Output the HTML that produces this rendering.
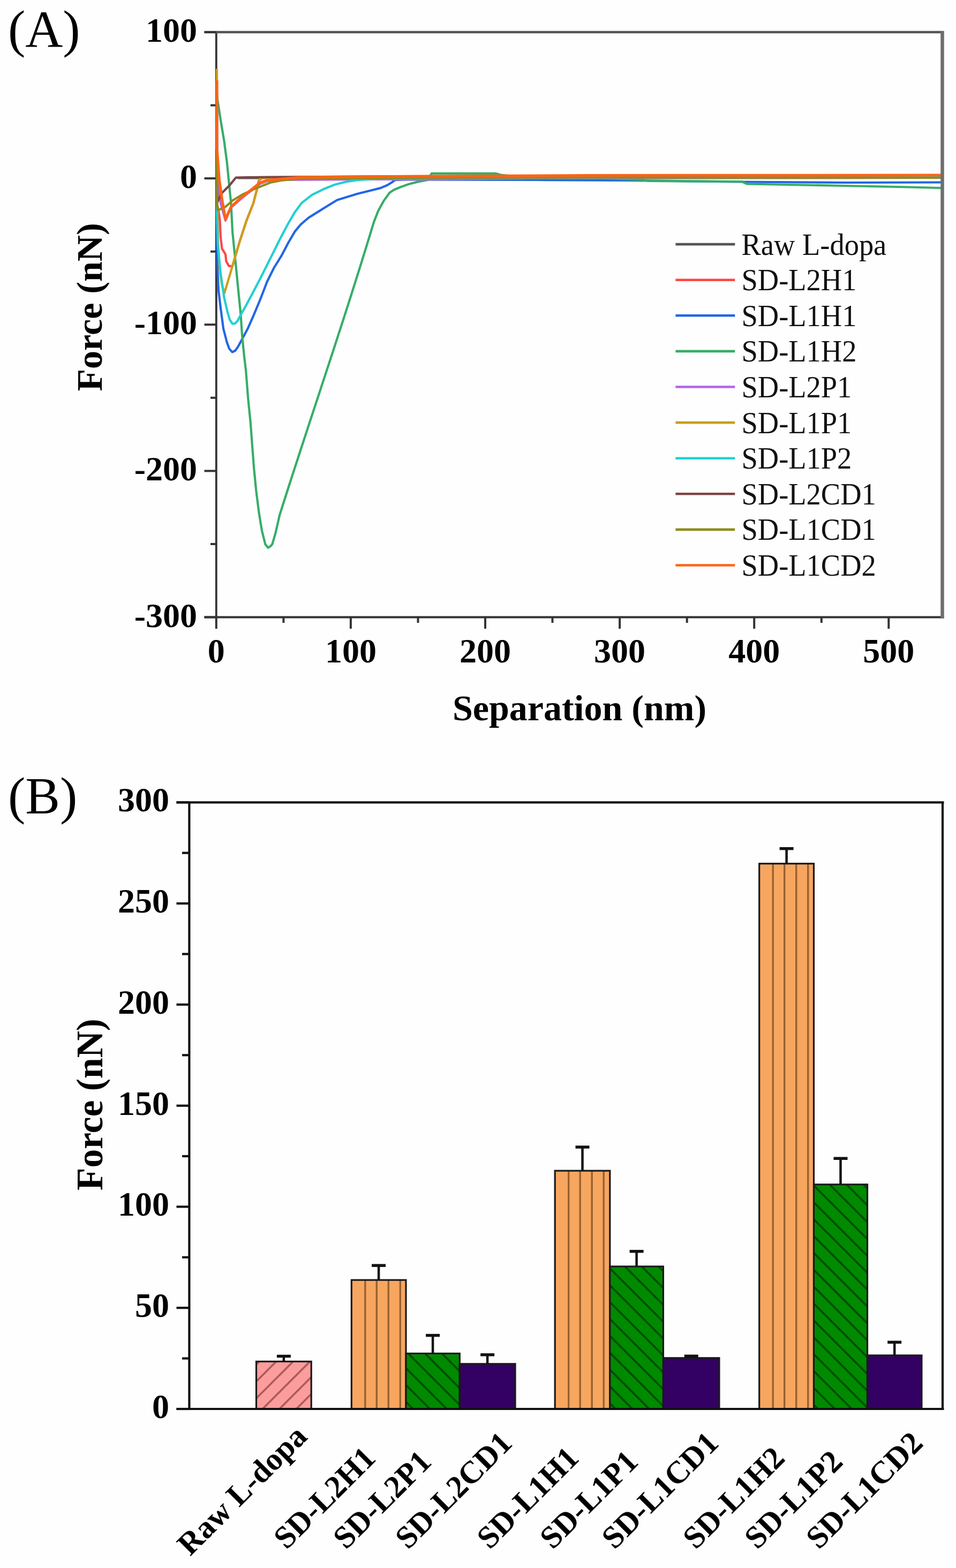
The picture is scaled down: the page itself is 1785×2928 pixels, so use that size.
<!DOCTYPE html>
<html><head><meta charset="utf-8"><title>Figure</title><style>
html,body{margin:0;padding:0;background:#fff;}
svg{display:block;}
text{font-family:'Liberation Serif', 'Times New Roman', serif;fill:#000;}
.tb{font-size:64px;font-weight:bold;}
.tt{font-size:68px;font-weight:bold;}
.pl{font-size:97px;}
.lg{font-size:54.5px;fill:#111;}
.xl{font-size:59px;font-weight:bold;}
</style></head>
<body>
<svg width="1785" height="2928" viewBox="0 0 1785 2928">
<rect width="1785" height="2928" fill="#fefefe"/>
<defs>
<clipPath id="clipA"><rect x="398" y="63.0" width="1361.5" height="1087.5"/></clipPath>
<pattern id="pat_pink" patternUnits="userSpaceOnUse" width="31.5" height="31.5" x="2.7" y="0">
  <path d="M-4,35.5 L35.5,-4 M-4,4 L4,-4 M27.5,35.5 L35.5,27.5" stroke="#a65858" stroke-width="3.4"/>
</pattern>
<pattern id="pat_green" patternUnits="userSpaceOnUse" width="31.5" height="31.5" x="0" y="1.3">
  <path d="M-4,-4 L35.5,35.5 M27.5,-4 L35.5,4 M-4,27.5 L4,35.5" stroke="#004a00" stroke-width="3.6"/>
</pattern>
<pattern id="pat_orange" patternUnits="userSpaceOnUse" width="22" height="40" x="4" y="0">
  <path d="M11,0 L11,40" stroke="#8a5a32" stroke-width="3"/>
</pattern>
</defs>
<line x1="403.8" y1="60.0" x2="403.8" y2="1152.5" stroke="#333" stroke-width="3.8"/>
<line x1="381.5" y1="1152.5" x2="1762.5" y2="1152.5" stroke="#333" stroke-width="4"/>
<line x1="381.5" y1="60.0" x2="1762.5" y2="60.0" stroke="#555" stroke-width="4.5"/>
<line x1="1759.5" y1="58.0" x2="1759.5" y2="1154.5" stroke="#6e6e6e" stroke-width="6"/>
<line x1="381.5" y1="60.0" x2="403.8" y2="60.0" stroke="#333" stroke-width="4"/>
<text x="368" y="78.0" text-anchor="end" class="tb">100</text>
<line x1="381.5" y1="333.1" x2="403.8" y2="333.1" stroke="#333" stroke-width="4"/>
<text x="368" y="351.1" text-anchor="end" class="tb">0</text>
<line x1="381.5" y1="606.2" x2="403.8" y2="606.2" stroke="#333" stroke-width="4"/>
<text x="368" y="624.2" text-anchor="end" class="tb">-100</text>
<line x1="381.5" y1="879.4" x2="403.8" y2="879.4" stroke="#333" stroke-width="4"/>
<text x="368" y="897.4" text-anchor="end" class="tb">-200</text>
<line x1="381.5" y1="1152.5" x2="403.8" y2="1152.5" stroke="#333" stroke-width="4"/>
<text x="368" y="1170.5" text-anchor="end" class="tb">-300</text>
<line x1="393" y1="196.6" x2="403.8" y2="196.6" stroke="#333" stroke-width="4"/>
<line x1="393" y1="469.7" x2="403.8" y2="469.7" stroke="#333" stroke-width="4"/>
<line x1="393" y1="742.8" x2="403.8" y2="742.8" stroke="#333" stroke-width="4"/>
<line x1="393" y1="1015.9" x2="403.8" y2="1015.9" stroke="#333" stroke-width="4"/>
<line x1="403.8" y1="1152.5" x2="403.8" y2="1174" stroke="#333" stroke-width="4"/>
<text x="403.8" y="1237" text-anchor="middle" class="tb">0</text>
<line x1="654.9" y1="1152.5" x2="654.9" y2="1174" stroke="#333" stroke-width="4"/>
<text x="654.9" y="1237" text-anchor="middle" class="tb">100</text>
<line x1="906.0" y1="1152.5" x2="906.0" y2="1174" stroke="#333" stroke-width="4"/>
<text x="906.0" y="1237" text-anchor="middle" class="tb">200</text>
<line x1="1157.1" y1="1152.5" x2="1157.1" y2="1174" stroke="#333" stroke-width="4"/>
<text x="1157.1" y="1237" text-anchor="middle" class="tb">300</text>
<line x1="1408.2" y1="1152.5" x2="1408.2" y2="1174" stroke="#333" stroke-width="4"/>
<text x="1408.2" y="1237" text-anchor="middle" class="tb">400</text>
<line x1="1659.3" y1="1152.5" x2="1659.3" y2="1174" stroke="#333" stroke-width="4"/>
<text x="1659.3" y="1237" text-anchor="middle" class="tb">500</text>
<line x1="529.4" y1="1152.5" x2="529.4" y2="1163" stroke="#333" stroke-width="4"/>
<line x1="780.5" y1="1152.5" x2="780.5" y2="1163" stroke="#333" stroke-width="4"/>
<line x1="1031.5" y1="1152.5" x2="1031.5" y2="1163" stroke="#333" stroke-width="4"/>
<line x1="1282.7" y1="1152.5" x2="1282.7" y2="1163" stroke="#333" stroke-width="4"/>
<line x1="1533.8" y1="1152.5" x2="1533.8" y2="1163" stroke="#333" stroke-width="4"/>
<g clip-path="url(#clipA)">
<polyline points="405.0,148.0 405.0,340.0" fill="none" stroke="#555555" stroke-width="4.2" stroke-linejoin="round" stroke-linecap="round"/>
<polyline points="445.0,332.5 1757.0,331.5" fill="none" stroke="#555555" stroke-width="4.2" stroke-linejoin="round" stroke-linecap="round"/>
<polyline points="405.0,255.0 405.5,380.0 409.0,400.0 410.6,412.5 411.9,442.3 414.5,464.4 421.0,474.8 422.3,487.8 427.5,496.9 432.0,497.0 434.0,496.9 447.0,452.7 460.0,412.5 472.9,380.0 479.4,355.0 483.3,337.0 490.0,332.0 600.0,330.0 1757.0,328.0" fill="none" stroke="#ff4646" stroke-width="4.2" stroke-linejoin="round" stroke-linecap="round"/>
<polyline points="405.0,150.0 405.0,420.0 406.0,500.0 408.0,542.3 411.9,574.8 417.1,613.8 423.6,639.0 428.0,651.0 433.5,657.5 439.0,655.0 444.4,647.5 452.1,633.2 462.5,613.8 472.9,590.4 485.9,559.2 498.9,525.5 511.9,499.5 524.9,478.7 537.9,454.0 550.7,432.1 561.3,419.3 576.2,406.5 593.3,395.9 610.3,385.2 629.5,373.5 646.5,368.2 667.8,361.8 689.1,356.5 710.4,351.1 723.2,345.8 731.7,340.5 738.1,335.8 760.0,335.5 1000.0,336.0 1180.0,337.0 1380.0,339.5 1580.0,341.0 1757.0,340.5" fill="none" stroke="#2266e6" stroke-width="4.2" stroke-linejoin="round" stroke-linecap="round"/>
<polyline points="405.0,175.0 406.0,185.0 411.9,223.9 418.4,262.9 423.6,301.8 427.5,340.8 431.4,379.7 434.0,432.0 437.9,470.9 441.8,509.9 445.6,548.8 449.5,587.8 452.1,626.8 456.0,665.7 459.2,692.6 463.4,745.9 467.7,788.5 470.9,831.1 474.1,873.7 478.3,916.3 483.7,958.9 489.0,990.9 495.4,1016.4 500.7,1022.8 505.0,1020.0 508.3,1016.4 514.4,995.7 522.0,962.2 530.0,937.0 538.0,912.0 546.0,887.2 554.0,862.6 562.0,838.0 570.0,813.6 578.0,789.2 586.0,764.9 594.0,740.6 602.0,716.2 610.0,691.9 618.0,667.5 626.0,643.0 634.0,618.4 642.0,593.7 650.0,568.8 658.0,543.7 666.0,518.4 674.0,492.9 682.0,467.1 690.0,441.1 698.0,414.7 706.2,393.7 716.8,374.6 727.5,359.7 736.0,354.3 748.8,349.0 763.7,343.7 780.7,339.4 797.8,336.2 802.0,330.0 806.0,323.8 925.0,323.8 935.0,326.5 960.0,329.0 1100.0,332.0 1200.0,336.0 1210.0,338.0 1385.0,339.0 1395.0,343.5 1500.0,345.5 1580.0,347.0 1700.0,349.5 1757.0,351.0" fill="none" stroke="#35ad68" stroke-width="4.2" stroke-linejoin="round" stroke-linecap="round"/>
<polyline points="405.0,170.0 406.0,330.0 412.0,380.0 421.0,412.0 431.0,388.0 447.0,374.0 460.0,363.0 473.0,353.0 486.0,343.0 499.0,338.0 525.0,336.0 700.0,335.0 865.0,334.5 1000.0,333.0 1757.0,332.0" fill="none" stroke="#b266e8" stroke-width="4.2" stroke-linejoin="round" stroke-linecap="round"/>
<polyline points="405.0,130.0 405.0,330.0 407.0,450.0 410.0,500.0 414.0,530.0 419.0,547.5 434.0,496.9 447.0,452.7 460.0,412.5 472.9,380.0 479.4,355.0 483.3,337.0 486.0,333.0 520.0,332.0 1757.0,330.0" fill="none" stroke="#cc9e1c" stroke-width="4.2" stroke-linejoin="round" stroke-linecap="round"/>
<polyline points="405.0,312.0 405.0,400.0 406.7,457.9 411.9,509.9 418.4,555.3 424.9,583.0 429.0,597.0 434.0,604.5 438.0,604.5 443.0,600.0 449.5,587.8 459.9,569.6 472.9,544.9 485.9,520.3 498.9,494.3 511.9,468.3 524.9,442.3 537.9,417.7 550.7,395.9 563.4,378.8 582.6,363.9 603.9,353.3 625.2,344.7 646.5,339.4 667.8,336.2 700.0,334.0 800.0,332.0 1757.0,331.0" fill="none" stroke="#22cfd2" stroke-width="4.2" stroke-linejoin="round" stroke-linecap="round"/>
<polyline points="405.0,235.0 405.0,340.0 406.0,377.0 414.5,360.3 427.5,347.3 440.5,331.7 460.0,331.0 800.0,329.0 1757.0,327.0" fill="none" stroke="#7d4444" stroke-width="4.2" stroke-linejoin="round" stroke-linecap="round"/>
<polyline points="405.0,285.0 405.0,380.0 406.7,392.7 421.0,386.2 434.0,374.5 453.4,362.9 472.9,353.8 485.9,348.6 505.4,340.8 524.9,336.9 560.0,334.0 800.0,332.0 1100.0,331.5 1757.0,332.0" fill="none" stroke="#8d8d1f" stroke-width="4.2" stroke-linejoin="round" stroke-linecap="round"/>
<polyline points="405.0,152.0 405.0,276.0 409.3,334.3 415.0,375.0 421.0,409.6 426.0,398.0 431.4,386.2 447.0,372.0 460.0,361.6 473.0,351.2 486.0,340.8 498.9,336.9 524.9,334.3 560.0,331.0 800.0,329.0 1100.0,327.5 1757.0,327.0" fill="none" stroke="#ff6418" stroke-width="5.0" stroke-linejoin="round" stroke-linecap="round"/>
</g>
<line x1="1759.5" y1="58.0" x2="1759.5" y2="1154.5" stroke="#6e6e6e" stroke-width="6"/>
<text transform="translate(189.5,573.5) rotate(-90)" text-anchor="middle" class="tt">Force (nN)</text>
<text x="1082" y="1345" text-anchor="middle" class="tt">Separation (nm)</text>
<text x="15" y="87" class="pl">(A)</text>
<line x1="1261.4" y1="456.1" x2="1372.3" y2="456.1" stroke="#555555" stroke-width="4.6"/>
<text transform="translate(1384.5,475.6) scale(1,1.045)" class="lg">Raw L-dopa</text>
<line x1="1261.4" y1="522.7" x2="1372.3" y2="522.7" stroke="#ff4646" stroke-width="4.6"/>
<text transform="translate(1384.5,542.2) scale(1,1.045)" class="lg">SD-L2H1</text>
<line x1="1261.4" y1="589.3" x2="1372.3" y2="589.3" stroke="#2266e6" stroke-width="4.6"/>
<text transform="translate(1384.5,608.8) scale(1,1.045)" class="lg">SD-L1H1</text>
<line x1="1261.4" y1="655.9" x2="1372.3" y2="655.9" stroke="#35ad68" stroke-width="4.6"/>
<text transform="translate(1384.5,675.4) scale(1,1.045)" class="lg">SD-L1H2</text>
<line x1="1261.4" y1="722.5" x2="1372.3" y2="722.5" stroke="#b266e8" stroke-width="4.6"/>
<text transform="translate(1384.5,742.0) scale(1,1.045)" class="lg">SD-L2P1</text>
<line x1="1261.4" y1="789.1" x2="1372.3" y2="789.1" stroke="#cc9e1c" stroke-width="4.6"/>
<text transform="translate(1384.5,808.6) scale(1,1.045)" class="lg">SD-L1P1</text>
<line x1="1261.4" y1="855.7" x2="1372.3" y2="855.7" stroke="#22cfd2" stroke-width="4.6"/>
<text transform="translate(1384.5,875.2) scale(1,1.045)" class="lg">SD-L1P2</text>
<line x1="1261.4" y1="922.3" x2="1372.3" y2="922.3" stroke="#7d4444" stroke-width="4.6"/>
<text transform="translate(1384.5,941.8) scale(1,1.045)" class="lg">SD-L2CD1</text>
<line x1="1261.4" y1="988.9" x2="1372.3" y2="988.9" stroke="#8d8d1f" stroke-width="4.6"/>
<text transform="translate(1384.5,1008.4) scale(1,1.045)" class="lg">SD-L1CD1</text>
<line x1="1261.4" y1="1055.5" x2="1372.3" y2="1055.5" stroke="#ff6418" stroke-width="4.6"/>
<text transform="translate(1384.5,1075.0) scale(1,1.045)" class="lg">SD-L1CD2</text>
<rect x="478.5" y="2542.4" width="102.7" height="88.6" fill="#fd9c9c"/>
<rect x="478.5" y="2542.4" width="102.7" height="88.6" fill="url(#pat_pink)"/>
<rect x="478.5" y="2542.4" width="102.7" height="88.6" fill="none" stroke="#1a1a1a" stroke-width="3.2"/>
<line x1="529.9" y1="2542.4" x2="529.9" y2="2532.0" stroke="#111" stroke-width="4.5"/>
<line x1="516.9" y1="2532.5" x2="542.9" y2="2532.5" stroke="#111" stroke-width="5.5"/>
<rect x="656.3" y="2390.2" width="101.7" height="240.8" fill="#f7a660"/>
<line x1="681.8" y1="2390.2" x2="681.8" y2="2631.0" stroke="#98612f" stroke-width="3.4"/>
<line x1="703.3" y1="2390.2" x2="703.3" y2="2631.0" stroke="#98612f" stroke-width="3.4"/>
<line x1="725.3" y1="2390.2" x2="725.3" y2="2631.0" stroke="#98612f" stroke-width="3.4"/>
<line x1="747.3" y1="2390.2" x2="747.3" y2="2631.0" stroke="#98612f" stroke-width="3.4"/>
<rect x="656.3" y="2390.2" width="101.7" height="240.8" fill="none" stroke="#1a1a1a" stroke-width="3.2"/>
<line x1="707.1" y1="2390.2" x2="707.1" y2="2362.6" stroke="#111" stroke-width="4.5"/>
<line x1="694.1" y1="2363.1" x2="720.1" y2="2363.1" stroke="#111" stroke-width="5.5"/>
<rect x="758.0" y="2527.4" width="100.3" height="103.6" fill="#008a00"/>
<rect x="758.0" y="2527.4" width="100.3" height="103.6" fill="url(#pat_green)"/>
<rect x="758.0" y="2527.4" width="100.3" height="103.6" fill="none" stroke="#1a1a1a" stroke-width="3.2"/>
<line x1="808.1" y1="2527.4" x2="808.1" y2="2493.1" stroke="#111" stroke-width="4.5"/>
<line x1="795.1" y1="2493.6" x2="821.1" y2="2493.6" stroke="#111" stroke-width="5.5"/>
<rect x="858.3" y="2546.8" width="103.7" height="84.2" fill="#330063"/>
<rect x="858.3" y="2546.8" width="103.7" height="84.2" fill="none" stroke="#1a1a1a" stroke-width="3.2"/>
<line x1="910.1" y1="2546.8" x2="910.1" y2="2529.3" stroke="#111" stroke-width="4.5"/>
<line x1="897.1" y1="2529.8" x2="923.1" y2="2529.8" stroke="#111" stroke-width="5.5"/>
<rect x="1036.2" y="2186.2" width="102.6" height="444.8" fill="#f7a660"/>
<line x1="1061.7" y1="2186.2" x2="1061.7" y2="2631.0" stroke="#98612f" stroke-width="3.4"/>
<line x1="1083.2" y1="2186.2" x2="1083.2" y2="2631.0" stroke="#98612f" stroke-width="3.4"/>
<line x1="1105.2" y1="2186.2" x2="1105.2" y2="2631.0" stroke="#98612f" stroke-width="3.4"/>
<line x1="1127.2" y1="2186.2" x2="1127.2" y2="2631.0" stroke="#98612f" stroke-width="3.4"/>
<rect x="1036.2" y="2186.2" width="102.6" height="444.8" fill="none" stroke="#1a1a1a" stroke-width="3.2"/>
<line x1="1087.5" y1="2186.2" x2="1087.5" y2="2141.5" stroke="#111" stroke-width="4.5"/>
<line x1="1074.5" y1="2142.0" x2="1100.5" y2="2142.0" stroke="#111" stroke-width="5.5"/>
<rect x="1138.8" y="2364.9" width="99.6" height="266.1" fill="#008a00"/>
<rect x="1138.8" y="2364.9" width="99.6" height="266.1" fill="url(#pat_green)"/>
<rect x="1138.8" y="2364.9" width="99.6" height="266.1" fill="none" stroke="#1a1a1a" stroke-width="3.2"/>
<line x1="1188.6" y1="2364.9" x2="1188.6" y2="2336.2" stroke="#111" stroke-width="4.5"/>
<line x1="1175.6" y1="2336.7" x2="1201.6" y2="2336.7" stroke="#111" stroke-width="5.5"/>
<rect x="1238.4" y="2535.8" width="104.5" height="95.2" fill="#330063"/>
<rect x="1238.4" y="2535.8" width="104.5" height="95.2" fill="none" stroke="#1a1a1a" stroke-width="3.2"/>
<line x1="1290.7" y1="2535.8" x2="1290.7" y2="2531.8" stroke="#111" stroke-width="4.5"/>
<line x1="1277.7" y1="2532.3" x2="1303.7" y2="2532.3" stroke="#111" stroke-width="5.5"/>
<rect x="1417.7" y="1612.7" width="101.8" height="1018.3" fill="#f7a660"/>
<line x1="1443.2" y1="1612.7" x2="1443.2" y2="2631.0" stroke="#98612f" stroke-width="3.4"/>
<line x1="1464.7" y1="1612.7" x2="1464.7" y2="2631.0" stroke="#98612f" stroke-width="3.4"/>
<line x1="1486.7" y1="1612.7" x2="1486.7" y2="2631.0" stroke="#98612f" stroke-width="3.4"/>
<line x1="1508.7" y1="1612.7" x2="1508.7" y2="2631.0" stroke="#98612f" stroke-width="3.4"/>
<rect x="1417.7" y="1612.7" width="101.8" height="1018.3" fill="none" stroke="#1a1a1a" stroke-width="3.2"/>
<line x1="1468.6" y1="1612.7" x2="1468.6" y2="1584.1" stroke="#111" stroke-width="4.5"/>
<line x1="1455.6" y1="1584.6" x2="1481.6" y2="1584.6" stroke="#111" stroke-width="5.5"/>
<rect x="1519.5" y="2211.8" width="100.0" height="419.2" fill="#008a00"/>
<rect x="1519.5" y="2211.8" width="100.0" height="419.2" fill="url(#pat_green)"/>
<rect x="1519.5" y="2211.8" width="100.0" height="419.2" fill="none" stroke="#1a1a1a" stroke-width="3.2"/>
<line x1="1569.5" y1="2211.8" x2="1569.5" y2="2162.7" stroke="#111" stroke-width="4.5"/>
<line x1="1556.5" y1="2163.2" x2="1582.5" y2="2163.2" stroke="#111" stroke-width="5.5"/>
<rect x="1619.5" y="2530.9" width="101.4" height="100.1" fill="#330063"/>
<rect x="1619.5" y="2530.9" width="101.4" height="100.1" fill="none" stroke="#1a1a1a" stroke-width="3.2"/>
<line x1="1670.2" y1="2530.9" x2="1670.2" y2="2505.9" stroke="#111" stroke-width="4.5"/>
<line x1="1657.2" y1="2506.4" x2="1683.2" y2="2506.4" stroke="#111" stroke-width="5.5"/>
<line x1="353.4" y1="1498.3" x2="353.4" y2="2631.0" stroke="#111" stroke-width="4.2"/>
<line x1="329.5" y1="2631.0" x2="1762.5" y2="2631.0" stroke="#111" stroke-width="4.2"/>
<line x1="329.5" y1="1498.3" x2="1762.5" y2="1498.3" stroke="#111" stroke-width="4.2"/>
<line x1="1760" y1="1498.3" x2="1760" y2="2631.0" stroke="#111" stroke-width="4.2"/>
<line x1="329.5" y1="2631.0" x2="353.4" y2="2631.0" stroke="#111" stroke-width="4.2"/>
<text x="316" y="2648.0" text-anchor="end" class="tb">0</text>
<line x1="329.5" y1="2442.2" x2="353.4" y2="2442.2" stroke="#111" stroke-width="4.2"/>
<text x="316" y="2459.2" text-anchor="end" class="tb">50</text>
<line x1="329.5" y1="2253.4" x2="353.4" y2="2253.4" stroke="#111" stroke-width="4.2"/>
<text x="316" y="2270.4" text-anchor="end" class="tb">100</text>
<line x1="329.5" y1="2064.7" x2="353.4" y2="2064.7" stroke="#111" stroke-width="4.2"/>
<text x="316" y="2081.7" text-anchor="end" class="tb">150</text>
<line x1="329.5" y1="1875.9" x2="353.4" y2="1875.9" stroke="#111" stroke-width="4.2"/>
<text x="316" y="1892.9" text-anchor="end" class="tb">200</text>
<line x1="329.5" y1="1687.1" x2="353.4" y2="1687.1" stroke="#111" stroke-width="4.2"/>
<text x="316" y="1704.1" text-anchor="end" class="tb">250</text>
<line x1="329.5" y1="1498.3" x2="353.4" y2="1498.3" stroke="#111" stroke-width="4.2"/>
<text x="316" y="1515.3" text-anchor="end" class="tb">300</text>
<line x1="340" y1="2536.6" x2="353.4" y2="2536.6" stroke="#111" stroke-width="4.2"/>
<line x1="340" y1="2347.8" x2="353.4" y2="2347.8" stroke="#111" stroke-width="4.2"/>
<line x1="340" y1="2159.0" x2="353.4" y2="2159.0" stroke="#111" stroke-width="4.2"/>
<line x1="340" y1="1970.3" x2="353.4" y2="1970.3" stroke="#111" stroke-width="4.2"/>
<line x1="340" y1="1781.5" x2="353.4" y2="1781.5" stroke="#111" stroke-width="4.2"/>
<line x1="340" y1="1592.7" x2="353.4" y2="1592.7" stroke="#111" stroke-width="4.2"/>
<text transform="translate(190.5,2062.5) rotate(-90)" text-anchor="middle" class="tt" style="font-size:69.5px">Force (nN)</text>
<text x="15" y="1519.4" class="pl">(B)</text>
<text transform="translate(355,2907) rotate(-45)" class="xl">Raw L-dopa</text>
<text transform="translate(535,2895) rotate(-45)" class="xl">SD-L2H1</text>
<text transform="translate(646,2895) rotate(-45)" class="xl">SD-L2P1</text>
<text transform="translate(762,2895) rotate(-45)" class="xl">SD-L2CD1</text>
<text transform="translate(914.5,2895) rotate(-45)" class="xl">SD-L1H1</text>
<text transform="translate(1032,2895) rotate(-45)" class="xl">SD-L1P1</text>
<text transform="translate(1147.5,2895) rotate(-45)" class="xl">SD-L1CD1</text>
<text transform="translate(1299,2895) rotate(-45)" class="xl">SD-L1H2</text>
<text transform="translate(1414,2895) rotate(-45)" class="xl">SD-L1P2</text>
<text transform="translate(1529,2895) rotate(-45)" class="xl">SD-L1CD2</text>
</svg>
</body></html>
